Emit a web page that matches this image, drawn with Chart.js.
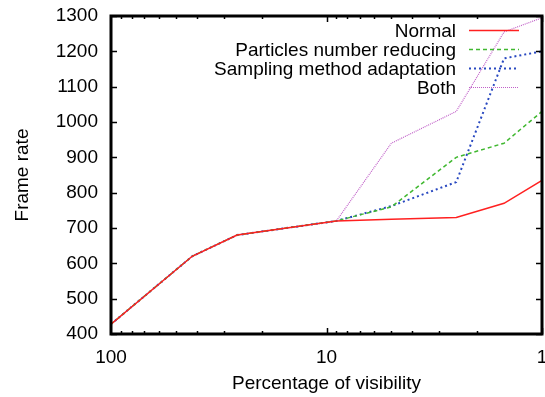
<!DOCTYPE html>
<html>
<head>
<meta charset="utf-8">
<script src="https://cdn.jsdelivr.net/npm/chart.js@4"></script>
<style>
  html, body { margin: 0; padding: 0; background: #fff; }
  #wrap { width: 545px; height: 397px; }
</style>
</head>
<body>
<div id="wrap"><canvas id="fpsChart" width="545" height="397"></canvas></div>
<script>
// percentage of visibility (x, log scale, reversed)
const visibility = [100, 42, 26, 9, 5, 2.5, 1.5, 1];
// frame rate per method
const normalFps = [428, 620, 680, 720, 725, 730, 770, 835];
const particlesFps = [428, 620, 680, 720, 760, 900, 940, 1030];
const samplingFps = [428, 620, 680, 720, 762, 830, 1180, 1200];
const bothFps = [428, 620, 680, 720, 940, 1030, 1255, 1295];
const xTickLabels = [100, 10, 1];
const seriesNames = ["Normal", "Particles number reducing", "Sampling method adaptation", "Both"];

const FONT = "'Liberation Sans', Arial, sans-serif";
const FSIZE = 19;

function toPoints(values) {
  return values.map((v, i) => ({ x: visibility[i], y: v }));
}

// gnuplot-like frame: thick border, inward ticks, mirrored on top/right
const framePlugin = {
  id: "frame",
  afterDatasetsDraw(chart) {
    const { ctx, chartArea: a, scales } = chart;
    const xs = scales.x, ys = scales.y;
    ctx.save();
    ctx.strokeStyle = "#000";
    ctx.lineWidth = 1.5;
    ctx.beginPath();
    for (let v = 400; v <= 1300; v += 100) {
      const py = Math.round(ys.getPixelForValue(v)) + 0.5;
      ctx.moveTo(a.left, py); ctx.lineTo(a.left + 6, py);
      ctx.moveTo(a.right, py); ctx.lineTo(a.right - 6, py);
    }
    for (let dec = 1; dec <= 10; dec *= 10) {
      for (let m = 1; m < 10; m++) {
        const v = dec * m;
        const px = Math.round(xs.getPixelForValue(v)) + 0.5;
        const len = m === 1 ? 6 : 3;
        ctx.moveTo(px, a.bottom); ctx.lineTo(px, a.bottom - len);
        ctx.moveTo(px, a.top); ctx.lineTo(px, a.top + len);
      }
    }
    ctx.stroke();
    ctx.lineWidth = 3;
    ctx.strokeRect(a.left, a.top, a.right - a.left, a.bottom - a.top);
    ctx.restore();
  }
};

// legend in the top right corner, text right-aligned, sample line on the right
const keyPlugin = {
  id: "key",
  afterDraw(chart) {
    const { ctx } = chart;
    ctx.save();
    ctx.font = FSIZE + "px " + FONT;
    ctx.textAlign = "right";
    ctx.textBaseline = "middle";
    chart.data.datasets.forEach((ds, i) => {
      const y = 30.5 + i * 19;
      ctx.fillStyle = "#000";
      ctx.fillText(ds.label, 456, y + 1);
      ctx.strokeStyle = ds.borderColor;
      ctx.lineWidth = ds.borderWidth;
      ctx.setLineDash(ds.borderDash || []);
      ctx.beginPath();
      ctx.moveTo(469, y);
      ctx.lineTo(519, y);
      ctx.stroke();
    });
    ctx.restore();
  }
};

const ctx = document.getElementById("fpsChart").getContext("2d");
new Chart(ctx, {
  type: "line",
  data: {
    datasets: [
      { label: seriesNames[0], data: toPoints(normalFps), borderColor: "#ff2020", borderWidth: 1.5 },
      { label: seriesNames[1], data: toPoints(particlesFps), borderColor: "#40b830", borderWidth: 1.5, borderDash: [4, 3] },
      { label: seriesNames[2], data: toPoints(samplingFps), borderColor: "#2848c0", borderWidth: 2, borderDash: [2, 3] },
      { label: seriesNames[3], data: toPoints(bothFps), borderColor: "#c060c8", borderWidth: 1.2, borderDash: [1, 1] }
    ]
  },
  options: {
    responsive: false,
    animation: false,
    events: [],
    layout: { padding: { top: 16, right: 3, left: 0, bottom: 0 } },
    elements: { point: { radius: 0 }, line: { tension: 0 } },
    plugins: { legend: { display: false }, tooltip: { enabled: false } },
    scales: {
      x: {
        type: "logarithmic",
        reverse: true,
        min: 1,
        max: 100,
        grid: { display: false, drawTicks: false },
        border: { display: false },
        afterBuildTicks(scale) {
          scale.ticks = xTickLabels.map(v => ({ value: v }));
        },
        ticks: {
          autoSkip: false,
          maxRotation: 0,
          padding: 12,
          color: "#000",
          font: { family: FONT, size: FSIZE },
          callback: v => String(v)
        },
        title: {
          display: true,
          text: "Percentage of visibility",
          color: "#000",
          font: { family: FONT, size: FSIZE },
          padding: { top: 0, bottom: 2 }
        },
        afterFit(scale) {
          scale.height = 63;
          scale.paddingLeft = 0;
          scale.paddingRight = 0;
        }
      },
      y: {
        min: 400,
        max: 1300,
        grid: { display: false, drawTicks: false },
        border: { display: false },
        ticks: {
          stepSize: 100,
          padding: 13,
          color: "#000",
          font: { family: FONT, size: FSIZE },
          callback: v => String(v)
        },
        title: {
          display: true,
          text: "Frame rate",
          color: "#000",
          font: { family: FONT, size: FSIZE },
          padding: { top: 11, bottom: 0 }
        },
        afterFit(scale) {
          scale.width = 111;
          scale.paddingTop = 0;
          scale.paddingBottom = 0;
        }
      }
    }
  },
  plugins: [framePlugin, keyPlugin]
});
</script>
</body>
</html>
